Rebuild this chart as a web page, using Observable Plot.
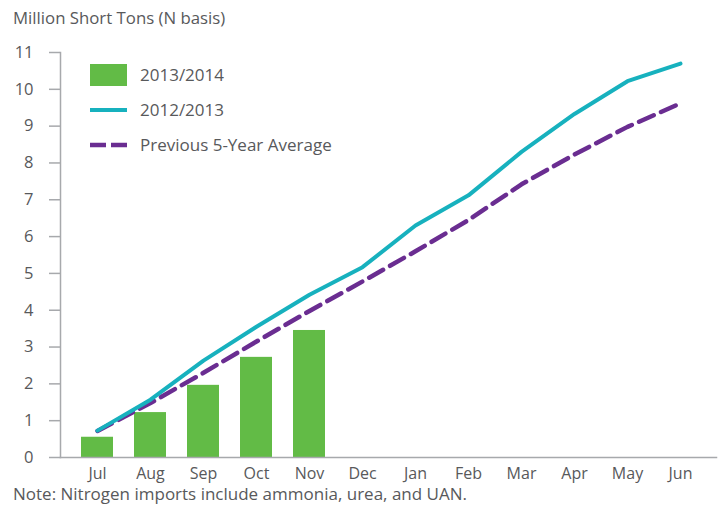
<!DOCTYPE html>
<html>
<head>
<meta charset="utf-8">
<script src="https://cdn.jsdelivr.net/npm/d3@7"></script>
<script src="https://cdn.jsdelivr.net/npm/@observablehq/plot@0.6"></script>
<style>
  html, body { margin: 0; padding: 0; background: #fff; }
  body { width: 728px; height: 506px; overflow: hidden; position: relative; font-family: "Open Sans", Lato, sans-serif; color: #58595b; }
  #title { position: absolute; left: 13px; top: 8px; font-size: 16.8px; line-height: 20px; }
  #chart { position: absolute; left: 0; top: 40px; }
  #note { position: absolute; left: 13px; top: 484px; font-size: 17px; line-height: 20px; white-space: nowrap; }
  #legend { position: absolute; left: 90px; top: 57px; font-size: 17px; }
  .row { display: flex; align-items: center; height: 35px; }
  .row svg { margin-right: 13px; }
</style>
</head>
<body>
<div id="title">Million Short Tons (N basis)</div>
<div id="chart"></div>
<div id="legend"></div>
<div id="note">Note: Nitrogen imports include ammonia, urea, and UAN.</div>
<script>
const months = ["Jul","Aug","Sep","Oct","Nov","Dec","Jan","Feb","Mar","Apr","May","Jun"];
const seriesNames = ["2013/2014", "2012/2013", "Previous 5-Year Average"];
const imports2013_14 = [0.55, 1.22, 1.96, 2.72, 3.45];
const imports2012_13 = [0.73, 1.57, 2.63, 3.55, 4.42, 5.17, 6.30, 7.12, 8.30, 9.33, 10.22, 10.70];
const avg5yr = [0.72, 1.48, 2.30, 3.15, 3.98, 4.78, 5.60, 6.45, 7.42, 8.23, 8.98, 9.62];
const yTicks = [0,1,2,3,4,5,6,7,8,9,10,11];

const colors = {green: "#62bb46", cyan: "#17b1be", purple: "#6a2d91"};

const barData = imports2013_14.map((v, i) => ({month: months[i], value: v}));
const lineData = imports2012_13.map((v, i) => ({month: months[i], value: v}));
const avgData = avg5yr.map((v, i) => ({month: months[i], value: v}));

const chart = Plot.plot({
  width: 728,
  height: 450,
  marginLeft: 60,
  marginRight: 12,
  marginTop: 12,
  marginBottom: 33,
  style: {fontFamily: "'Open Sans', Lato, sans-serif", fontSize: "16px", color: "#58595b", background: "transparent"},
  x: {domain: months, paddingInner: 0.4, paddingOuter: 0.33, label: null},
  y: {domain: [0, 11], label: null},
  marks: [
    Plot.barY(barData, {x: "month", y: "value", fill: colors.green}),
    Plot.line(avgData, {x: "month", y: "value", stroke: colors.purple, strokeWidth: 4.5, strokeDasharray: "16,8"}),
    Plot.line(lineData, {x: "month", y: "value", stroke: colors.cyan, strokeWidth: 4}),
    Plot.frame({anchor: "left", stroke: "#a7a9ac", strokeWidth: 1.5}),
    Plot.frame({anchor: "bottom", stroke: "#a7a9ac", strokeWidth: 1.5}),
    Plot.axisY({ticks: yTicks, tickSize: 11, text: null, stroke: "#a7a9ac", strokeWidth: 1.5}),
    Plot.axisY({ticks: yTicks, tickSize: 0, tickPadding: 27, fill: "#58595b", fontSize: 16.5}),
    Plot.axisX({tickSize: 0, tickPadding: 10, fill: "#58595b", fontSize: 16})
  ]
});
document.getElementById("chart").appendChild(chart);

// legend
const legend = document.getElementById("legend");
const swatches = [
  `<svg width="37" height="22"><rect x="0" y="0" width="37" height="22" fill="${colors.green}"/></svg>`,
  `<svg width="37" height="22"><line x1="0" x2="37" y1="11" y2="11" stroke="${colors.cyan}" stroke-width="4"/></svg>`,
  `<svg width="37" height="22"><line x1="0" x2="37" y1="11" y2="11" stroke="${colors.purple}" stroke-width="4.5" stroke-dasharray="16,5"/></svg>`
];
seriesNames.forEach((name, i) => {
  const row = document.createElement("div");
  row.className = "row";
  row.innerHTML = swatches[i] + `<span>${name}</span>`;
  legend.appendChild(row);
});
</script>
</body>
</html>
